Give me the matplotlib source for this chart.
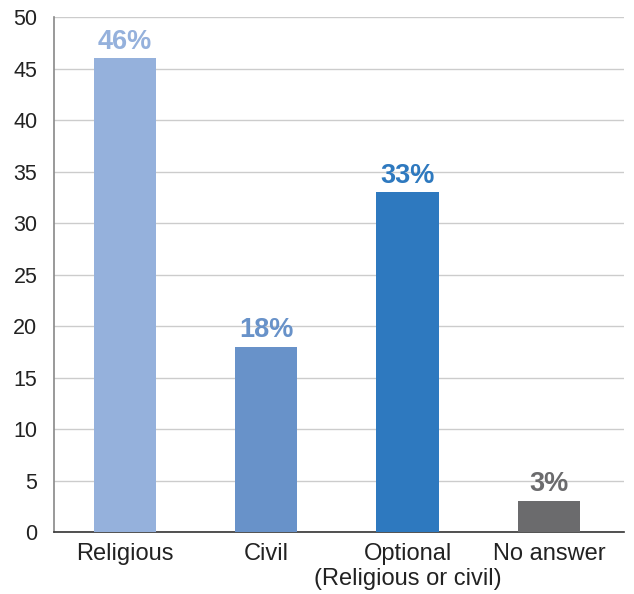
import matplotlib
matplotlib.use("Agg")
import matplotlib.pyplot as plt
from matplotlib import font_manager
from matplotlib.font_manager import FontProperties

categories = ["Religious", "Civil", "Optional\n(Religious or civil)", "No answer"]
values = [46, 18, 33, 3]
labels = ["46%", "18%", "33%", "3%"]
colors = ["#95b1dc", "#6892c9", "#2e79bf", "#6b6b6d"]


def find_font(tag):
    for f in font_manager.fontManager.ttflist:
        if f.fname.endswith(tag):
            return f.fname
    return None


# narrow font for axes text, wide bold for the value labels
narrow = FontProperties(family="Liberation Sans", stretch="condensed", size=17)
narrow_y = FontProperties(family="Liberation Sans", stretch="condensed", size=15.5)
bold_file = find_font("LiberationSans-Bold.ttf")
if bold_file:
    bold = FontProperties(fname=bold_file, size=19.5)
else:
    bold = FontProperties(family="Roboto", weight="bold", size=19.5)

fig = plt.figure(figsize=(6.34, 5.94), dpi=100)
ax = fig.add_axes([0.0852, 0.1044, 0.8988, 0.8666])

x = list(range(len(categories)))
ax.bar(x, values, width=0.44, color=colors, zorder=3)

for xi, v, lab, c in zip(x, values, labels, colors):
    ax.text(xi, v + 0.35, lab, ha="center", va="bottom", color=c,
            fontproperties=bold)

ax.set_xlim(-0.5, 3.53)
ax.set_ylim(0, 50)
ax.set_yticks(range(0, 51, 5))
ax.set_xticks(x)
ax.set_xticklabels(categories, fontproperties=narrow, color="#222222",
                   linespacing=1.15)
for t in ax.get_yticklabels():
    t.set_fontproperties(narrow_y)
    t.set_color("#222222")

ax.tick_params(axis="y", length=0, pad=12)
ax.tick_params(axis="x", length=0, pad=8)
ax.yaxis.grid(True, color="#cccccc", linewidth=1, zorder=0)
ax.set_axisbelow(True)

for s in ["top", "right"]:
    ax.spines[s].set_visible(False)
ax.spines["left"].set_color("#888888")
ax.spines["left"].set_linewidth(1.2)
ax.spines["bottom"].set_color("#333333")
ax.spines["bottom"].set_linewidth(1.2)

fig.savefig("out.png", dpi=100)
